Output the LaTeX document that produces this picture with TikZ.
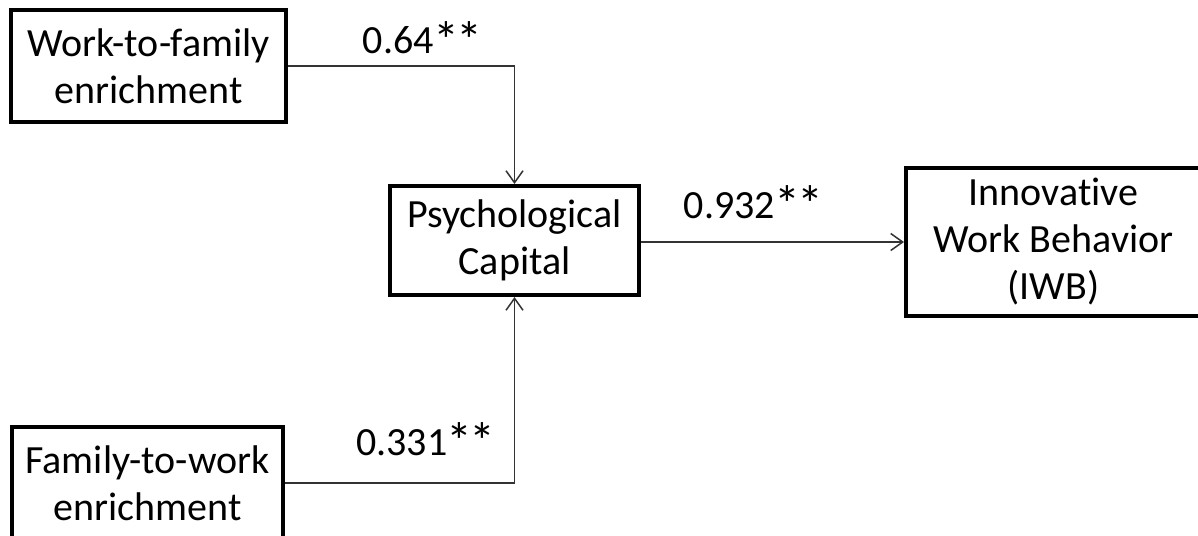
\documentclass[tikz,border=0pt]{standalone}
\usepackage{fontspec}
\setmainfont{Carlito}[RawFeature=-liga]
\usetikzlibrary{arrows.meta}
% significance star, slightly enlarged and tightly set
\newcommand{\sigstar}{\kern-0.02em\raisebox{-0.12em}{\scalebox{1.3}{*}}\kern-0.05em}
\begin{document}
\begin{tikzpicture}[x=1pt,y=-1pt,
  box/.style={draw=black,line width=4pt,inner sep=0pt,align=center,
    font=\fontsize{40}{47}\selectfont},
  lbl/.style={anchor=base,inner sep=0pt,font=\fontsize{40}{47}\selectfont},
  conn/.style={draw=black!80,line width=1.5pt,
    -{Straight Barb[length=12pt,width=17pt,line width=1.5pt]}}]
  \useasboundingbox (0,0) rectangle (1198,535);
  \begin{scope}
    \clip (0,0) rectangle (1198,535);
    \node[box,minimum width=275pt,minimum height=112pt] (wf) at (148.5,66)
      {Work-to-family\\enrichment};
    \node[box,minimum width=249pt,minimum height=109pt] (pc) at (514.5,240.5)
      {Psychological\\Capital};
    \node[box,minimum width=295pt,minimum height=148pt] (iwb) at (1053.5,242)
      {Innovative\\Work Behavior\\(IWB)};
    \node[box,minimum width=271pt,minimum height=112pt] (fw) at (147.5,483)
      {Family-to-work\\enrichment};
  \end{scope}
  \draw[conn] (wf.east) -| (pc.north);
  \draw[conn] (fw.east) -| (pc.south);
  \draw[conn] (pc.east |- 0,242) -- (iwb.west |- 0,242);
  \node[lbl] (l1) at (421.5,54) {0.64\sigstar\sigstar};
  \node[lbl] (l2) at (752.5,218) {0.932\sigstar\sigstar};
  \node[lbl] (l3) at (425,455) {0.331\sigstar\sigstar};
\end{tikzpicture}
\end{document}
